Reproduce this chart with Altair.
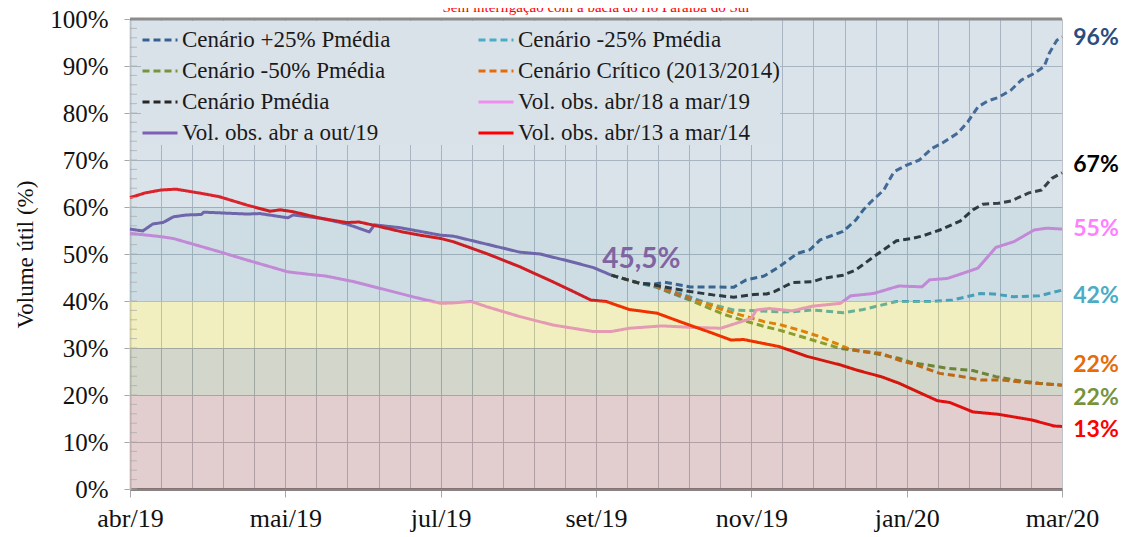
import json
import altair as alt
import pandas as pd

# ---------------- data ----------------
title_text = "Sem interligação com a bacia do rio Paraíba do Sul"
month_labels = ["abr/19", "mai/19", "jul/19", "set/19", "nov/19", "jan/20", "mar/20"]
label_step = 61      # days between labelled ticks
total_days = 366     # days from 1 abr/19

series_names = [
    "Cenário +25% Pmédia", "Cenário -25% Pmédia", "Cenário -50% Pmédia",
    "Cenário Crítico (2013/2014)", "Cenário Pmédia", "Vol. obs. abr/18 a mar/19",
    "Vol. obs. abr a out/19", "Vol. obs. abr/13 a mar/14",
]

b25_days = [189,200,206,210,220,229,237,242,249,255,262,267,271,276,280,285,288,291,296,300,305,310,315,319,325,329,333,337,341,346,350,355,359,361,364,366]
b25_vals = [45.5,43.8,43.6,44.0,43.0,43.0,42.9,44.5,45.3,47.3,50.1,50.9,53.0,54.0,54.8,57.2,59.4,61.1,63.6,67.5,68.9,70.0,72.5,73.6,75.7,78.1,81.3,82.6,83.3,84.9,87.0,88.4,89.9,92.7,95.5,96.2]

c25_days = [189,200,206,216,227,237,246,255,260,268,280,288,301,307,315,323,334,339,347,357,366]
c25_vals = [45.5,43.8,43.0,41.6,39.5,38.1,37.9,37.7,37.7,38.1,37.5,38.2,39.9,39.9,39.9,40.2,41.6,41.5,40.9,41.1,42.3]

grn_days = [189,200,206,211,220,233,240,249,255,268,279,289,302,307,321,331,340,347,357,366]
grn_vals = [45.5,43.8,43.2,42.0,40.2,37.2,36.0,34.6,33.8,31.7,29.9,29.2,27.8,26.9,25.7,25.2,23.9,23.2,22.5,22.1]

org_days = [189,200,206,211,220,233,240,249,255,263,271,282,288,295,302,307,318,327,334,342,353,366]
org_vals = [45.5,43.8,43.2,42.3,40.6,38.1,37.0,35.6,35.0,33.8,32.4,29.9,29.2,28.9,27.4,26.7,24.6,23.9,23.2,23.2,22.6,22.1]

blk_days = [189,200,206,220,229,237,245,250,253,260,268,272,280,285,292,301,307,311,318,326,331,335,341,346,353,358,362,366]
blk_vals = [45.5,43.8,43.4,42.0,41.3,40.8,41.4,41.5,42.0,43.9,44.1,44.8,45.5,46.6,49.4,52.8,53.3,53.8,55.1,57.0,59.4,60.6,60.8,61.3,63.0,63.6,66.1,67.3]

pink_days = [0,12,17,35,46,62,70,77,88,101,111,122,127,134,140,153,166,182,189,196,209,220,232,236,244,246,251,260,268,279,283,292,302,311,314,321,326,333,340,347,355,360,366]
pink_vals = [54.4,53.7,53.3,50.5,48.7,46.2,45.7,45.3,44.1,42.3,40.9,39.5,39.6,39.9,38.8,36.7,34.9,33.5,33.5,34.2,34.7,34.4,34.2,34.9,36.3,38.1,38.4,37.9,38.9,39.5,41.1,41.6,43.2,43.0,44.5,44.8,45.7,47.0,51.4,52.6,55.1,55.5,55.3]

pur_days = [0,5,9,13,17,22,28,29,46,51,62,64,75,85,94,96,106,122,127,140,153,161,173,182,189]
pur_vals = [55.3,54.9,56.4,56.7,57.9,58.3,58.4,58.9,58.5,58.6,57.7,58.3,57.6,56.4,54.7,56.2,55.6,54.0,53.8,52.1,50.4,50.0,48.4,47.1,45.5]

red_days = [0,6,12,18,28,35,46,55,59,64,75,85,90,95,107,114,122,127,140,153,166,173,181,187,196,207,216,227,236,241,255,266,279,286,295,302,317,322,331,341,354,363,366]
red_vals = [62.0,63.0,63.6,63.8,62.9,62.2,60.4,59.1,59.4,59.0,57.6,56.7,56.8,56.2,54.7,54.0,53.3,52.6,50.1,47.3,44.1,42.3,40.2,39.9,38.2,37.4,35.6,33.5,31.7,31.8,30.3,28.2,26.4,25.2,23.9,22.5,18.8,18.4,16.4,15.9,14.7,13.4,13.3]

band_lo = [0, 20, 30, 40, 60]
band_hi = [20, 30, 40, 60, 100]

# ---------------- styles ----------------
series_colors = ["#376092", "#4bacc6", "#77933c", "#e46c0a", "#262626", "#ee8fee", "#7f5fb3", "#ff0000"]
series_dash = [[7, 4]] * 5 + [[1, 0]] * 3
series_width = [3, 3, 3, 3, 3, 2, 3.2, 2.4]
# legend is filled column by column: left column first, then right column
legend_order = [0, 2, 4, 6, 1, 3, 5, 7]
band_colors = ["#8b3b3b", "#4f5b2f", "#c7bf00", "#3b778f", "#6b8bab"]
band_alpha = 0.25
end_label_colors = {
    "Cenário +25% Pmédia": "#2b4c7e", "Cenário Pmédia": "#000000",
    "Vol. obs. abr/18 a mar/19": "#ff80ff", "Cenário -25% Pmédia": "#4bacc6",
    "Cenário Crítico (2013/2014)": "#e46c0a", "Cenário -50% Pmédia": "#77933c",
    "Vol. obs. abr/13 a mar/14": "#ff0000",
}
end_label_dy = {
    "Cenário +25% Pmédia": 1, "Cenário Pmédia": -8,
    "Vol. obs. abr/18 a mar/19": 0, "Cenário -25% Pmédia": 6,
    "Cenário Crítico (2013/2014)": -20, "Cenário -50% Pmédia": 13,
    "Vol. obs. abr/13 a mar/14": 4,
}

W, H = 932, 470
SERIF = "Liberation Serif"
SANS = "Lato"

all_days = [b25_days, c25_days, grn_days, org_days, blk_days, pink_days, pur_days, red_days]
all_vals = [b25_vals, c25_vals, grn_vals, org_vals, blk_vals, pink_vals, pur_vals, red_vals]

rows = []
for name, ds, vs in zip(series_names, all_days, all_vals):
    for d, v in zip(ds, vs):
        rows.append({"series": name, "day": d, "val": v})
df = pd.DataFrame(rows)

bands = pd.DataFrame({"lo": band_lo, "hi": band_hi, "col": band_colors})

grid_values = [round(i * label_step / 5, 3) for i in range(0, 31)]
is_major = f"abs(datum.value/{label_step} - round(datum.value/{label_step})) < 0.01"
x_axis = alt.Axis(
    values=grid_values, grid=True, gridColor="#bcc2c8", gridWidth=1,
    labelExpr=f"{is_major} ? {json.dumps(month_labels)}[round(datum.value/{label_step})] : ''",
    tickOpacity={"condition": {"test": is_major, "value": 1}, "value": 0},
    tickColor="#a8a8a8", tickSize=8, tickWidth=1,
    domainColor="#858585", domainWidth=3,
    labelFont=SERIF, labelFontSize=26, labelColor="#111111", labelPadding=8,
    labelFlush=False, labelOverlap=False, title=None,
)
y_axis = alt.Axis(
    values=list(range(0, 101, 10)), grid=True, gridColor="#bcc2c8", gridWidth=1,
    labelExpr="datum.value + '%'", tickColor="#a8a8a8", tickSize=6, tickWidth=1,
    domainColor="#d4d4d4", domainWidth=2,
    labelFont=SERIF, labelFontSize=25, labelColor="#111111", labelPadding=16,
    labelFlush=False, labelOverlap=False,
    title="Volume útil (%)", titleFont=SERIF, titleFontSize=23, titleFontWeight="normal",
    titleColor="#111111", titlePadding=12,
)
x_scale = alt.Scale(domain=[0, total_days], nice=False, zero=False)
y_scale = alt.Scale(domain=[0, 100], nice=False)
x_enc = alt.X("day:Q", scale=x_scale, axis=x_axis)
y_enc = alt.Y("val:Q", scale=y_scale, axis=y_axis)

legend = alt.Legend(
    title=None, orient="none", legendX=11, legendY=2, columns=2, columnPadding=81,
    rowPadding=-2, symbolType="stroke", symbolSize=1225,
    symbolOpacity=1, labelFont=SERIF, labelFontSize=23, labelColor="#1a1a1a",
    labelOffset=3, labelLimit=400, fillColor="#dae2e9", padding=0, zindex=2,
)
leg_domain = [series_names[i] for i in legend_order]
leg_colors = [series_colors[i] for i in legend_order]
leg_dash = [series_dash[i] for i in legend_order]
leg_width = [series_width[i] for i in legend_order]
color_enc = alt.Color("series:N", scale=alt.Scale(domain=leg_domain, range=leg_colors), legend=legend)
dash_enc = alt.StrokeDash("series:N", scale=alt.Scale(domain=leg_domain, range=leg_dash), legend=legend)
width_enc = alt.StrokeWidth("series:N", scale=alt.Scale(domain=leg_domain, range=leg_width), legend=legend)

base = alt.Chart(df)
layers = []
for name in series_names:
    layers.append(
        base.transform_filter(alt.datum.series == name)
        .mark_line(strokeCap="butt", strokeJoin="round", opacity=1)
        .encode(x=x_enc, y=y_enc, color=color_enc, strokeDash=dash_enc, strokeWidth=width_enc)
    )

band_layer = alt.Chart(bands).mark_rect(fillOpacity=band_alpha, strokeWidth=0).encode(
    y=alt.Y("lo:Q", scale=y_scale, axis=y_axis), y2="hi:Q",
    x=alt.value(0), x2=alt.value(W), fill=alt.Fill("col:N", scale=None),
)

minor_ticks = alt.Chart(alt.sequence(0, 101, 2, as_="val")).mark_tick(
    orient="horizontal", size=7, thickness=1, color="#a8a8a8"
).encode(y=y_enc, x=alt.value(3.5))

frame_top = alt.Chart(pd.DataFrame({"k": [0]})).mark_rule(color="#8c8c8c", strokeWidth=3).encode(
    y=alt.value(0), x=alt.value(0), x2=alt.value(W)
)

# end-of-series labels
end_rows = []
for name, ds, vs in zip(series_names, all_days, all_vals):
    end_rows.append({"series": name, "day": ds[-1], "val": vs[-1], "label": f"{round(vs[-1]):.0f}%"})
ends = pd.DataFrame(end_rows)

label_layers = []
for name, col in end_label_colors.items():
    label_layers.append(
        alt.Chart(ends).transform_filter(alt.datum.series == name)
        .mark_text(font=SANS, fontWeight="bold", fontSize=23, color=col, align="center",
                   baseline="middle", dx=34, dy=end_label_dy[name])
        .encode(x=x_enc, y=y_enc, text="label:N")
    )

pur_end = pd.DataFrame({"day": [pur_days[-1]], "val": [pur_vals[-1]],
                        "label": [f"{pur_vals[-1]:.1f}%".replace(".", ",")]})
pur_label = alt.Chart(pur_end).mark_text(
    font=SANS, fontWeight="bold", fontSize=28, color="#8064a2", align="left",
    baseline="alphabetic", dx=-9, dy=-7
).encode(x=x_enc, y=y_enc, text="label:N")

title_layer = alt.Chart(pd.DataFrame({"t": [title_text]})).mark_text(
    font=SERIF, fontSize=15, color="#ff0000", align="center", baseline="bottom"
).encode(text="t:N", x=alt.value(466), y=alt.value(-4))

chart = alt.layer(
    *layers, band_layer, minor_ticks, frame_top, *label_layers, pur_label, title_layer
).properties(
    width=W, height=H,
    padding={"left": 122, "top": 11, "right": 61, "bottom": 48},
    autosize=alt.AutoSizeParams(type="none"),
).configure_view(stroke=None, fill="white").configure(background="white")

chart.save("out.html", embed_options={"renderer": "svg", "actions": False})
